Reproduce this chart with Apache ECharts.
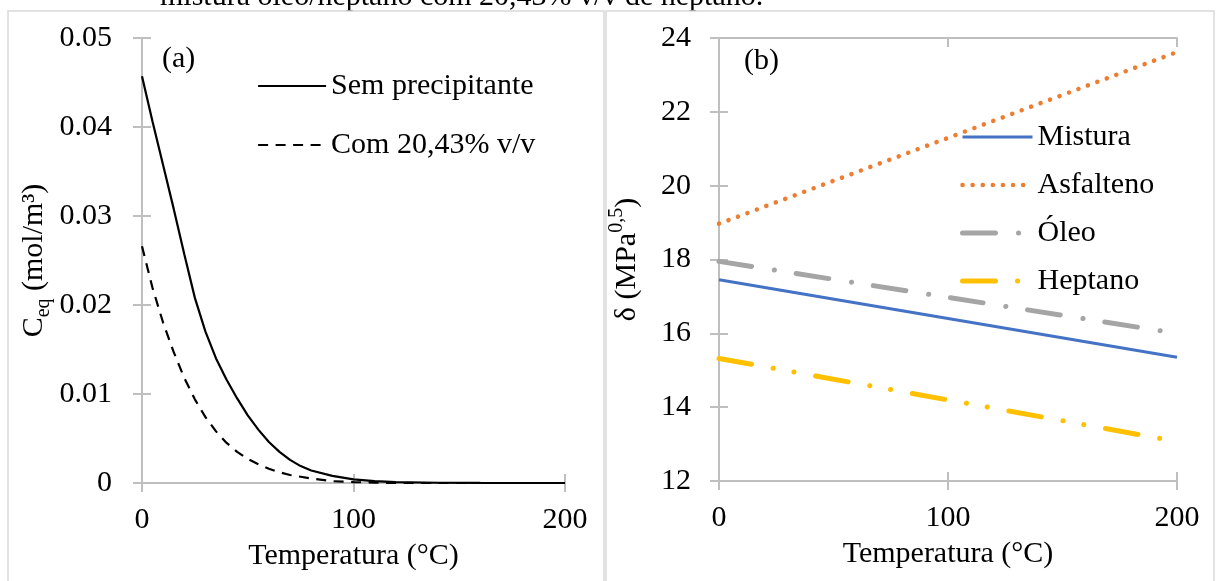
<!DOCTYPE html>
<html>
<head>
<meta charset="utf-8">
<script src="https://cdn.jsdelivr.net/npm/echarts@6/dist/echarts.min.js"></script>
<style>
html,body{margin:0;padding:0;background:#fff;}
#c{width:1216px;height:581px;}
</style>
</head>
<body>
<div id="c"></div>
<script>
// ---- Panel (a) data ----
var tempA = [0,5,10,15,20,25,30,35,40,45,50,55,60,65,70,75,80,90,100,110,120,140,160,180,200];
var semPrecipitante = [0.0457,0.0406,0.0357,0.0308,0.0257,0.0208,0.0170,0.0140,0.0116,0.0095,0.0076,0.0060,0.0046,0.0035,0.0026,0.0019,0.0014,0.0008,0.0004,0.0002,0.0001,0.00003,0.00001,0,0];
var com2043 = [0.0266,0.0219,0.0180,0.0147,0.0118,0.0094,0.0074,0.0058,0.0045,0.0035,0.0027,0.0021,0.0016,0.0012,0.0009,0.0007,0.0005,0.0002,0.0001,0.00005,0,0,0,0,0];
var namesA = ['Sem precipitante','Com 20,43% v/v'];
var ticksA = {min:0, max:0.05, interval:0.01};

// ---- Panel (b) data ----
var tempB = [0,200];
var mistura = [17.45,15.35];
var asfalteno = [18.97,23.62];
var oleo = [17.95,16.0];
var heptano = [15.32,13.07];
var namesB = ['Mistura','Asfalteno','Óleo','Heptano'];
var ticksB = {min:12, max:24, interval:2};
var ticksX = {min:0, max:200, interval:100};

function pairs(xs, ys){ return xs.map(function(x,i){return [x, ys[i]];}); }

var FONT = 'Liberation Serif';
var AX = '#BFBFBF';

function mkX(grid, kind){
  var a = {type:'value', gridIndex:grid, min:ticksX.min, max:ticksX.max, interval:ticksX.interval,
    splitLine:{show:false}, axisLine:{show:true, lineStyle:{color:AX, width:2}},
    axisTick:{show:true, length:9, lineStyle:{color:AX, width:2}},
    axisLabel:{show:false}};
  if (kind === 'main'){
    a.position = 'bottom';
    a.axisLabel = {show:true, color:'#000', fontFamily:FONT, fontSize:30, margin:22};
    a.name = 'Temperatura (°C)';
    a.nameLocation = 'middle';
    a.nameGap = 58;
    a.nameTextStyle = {color:'#000', fontFamily:FONT, fontSize:30};
  } else if (kind === 'in'){
    a.position = 'bottom';
    a.axisTick.inside = true;
    a.axisLine = {show:false};
  } else {
    a.position = 'top';
    a.axisTick.inside = true;
  }
  return a;
}
function mkY(grid, kind, t, name, gap, labMargin){
  var a = {type:'value', gridIndex:grid, min:t.min, max:t.max, interval:t.interval,
    splitLine:{show:false}, axisLine:{show:true, lineStyle:{color:AX, width:2}},
    axisTick:{show:true, length:9, lineStyle:{color:AX, width:2}},
    axisLabel:{show:false}};
  if (kind === 'main'){
    a.position = 'left';
    a.axisLabel = {show:true, color:'#000', fontFamily:FONT, fontSize:30, margin:labMargin};
    a.name = name;
    a.nameLocation = 'middle';
    a.nameGap = gap;
    a.nameRotate = 90;
    a.nameTextStyle = {color:'#000', fontFamily:FONT, fontSize:30,
      rich:{
        m:{fontFamily:FONT, fontSize:30, lineHeight:40, verticalAlign:'middle', color:'#000'},
        sub:{fontFamily:FONT, fontSize:20, lineHeight:22, verticalAlign:'bottom', color:'#000'},
        sup:{fontFamily:FONT, fontSize:20, lineHeight:22, verticalAlign:'top', color:'#000'}
      }};
  } else if (kind === 'in'){
    a.position = 'left';
    a.axisTick.inside = true;
    a.axisLine = {show:false};
  } else {
    a.position = 'right';
    a.axisTick.inside = true;
  }
  return a;
}

var legendLine = {width:'inherit', type:'inherit', cap:'inherit'};

var option = {
  animation:false,
  backgroundColor:'#fff',
  graphic:[
    {type:'text', z:-10, left:160, top:-18, style:{text:'mistura óleo/heptano com 20,43% v/v de heptano.', font:'30px "Liberation Serif"', fill:'#000'}},
    {type:'rect', z:-5, shape:{x:8, y:11, width:596, height:600}, style:{fill:'#fff', stroke:'#D9D9D9', lineWidth:1.5}},
    {type:'rect', z:-5, shape:{x:606, y:11, width:608, height:600}, style:{fill:'#fff', stroke:'#D9D9D9', lineWidth:1.5}},
    {type:'text', left:162, top:44, style:{text:'(a)', font:'30px "Liberation Serif"', fill:'#000'}},
    {type:'text', left:744, top:46, style:{text:'(b)', font:'30px "Liberation Serif"', fill:'#000'}}
  ],
  grid:[
    {left:142, top:38, width:423, height:445},
    {left:719, top:38, width:458, height:443}
  ],
  xAxis:[mkX(0,'main'), mkX(0,'in'), mkX(0,'top'), mkX(1,'main'), mkX(1,'in'), mkX(1,'top')],
  yAxis:[
    mkY(0,'main',ticksA,'{m|C}{sub|eq}{m| (mol/m³)}',88,30), mkY(0,'in',ticksA), mkY(0,'right',ticksA),
    mkY(1,'main',ticksB,'{m|δ (MPa}{sup|0,5}{m|)}',72,28), mkY(1,'in',ticksB), mkY(1,'right',ticksB)
  ],
  legend:[
    {data:namesA, orient:'vertical', left:257, top:71, padding:0, itemWidth:68, itemHeight:30, itemGap:29,
     itemStyle:{opacity:0}, lineStyle:legendLine,
     textStyle:{fontFamily:FONT, fontSize:30, color:'#000'}},
    {data:namesB, orient:'vertical', left:960, top:122, padding:0, itemWidth:70, itemHeight:30, itemGap:18,
     itemStyle:{opacity:0}, lineStyle:legendLine,
     textStyle:{fontFamily:FONT, fontSize:30, color:'#000'}}
  ],
  series:[
    {name:namesA[0], type:'line', xAxisIndex:0, yAxisIndex:0, data:pairs(tempA, semPrecipitante),
     symbol:'none', color:'#000', lineStyle:{color:'#000', width:2.2}},
    {name:namesA[1], type:'line', xAxisIndex:0, yAxisIndex:0, data:pairs(tempA, com2043),
     symbol:'none', color:'#000', lineStyle:{color:'#000', width:2.2, type:[10,7.5]}},
    {name:namesB[0], type:'line', xAxisIndex:3, yAxisIndex:3, data:pairs(tempB, mistura),
     symbol:'none', color:'#4472C4', lineStyle:{color:'#4472C4', width:3}},
    {name:namesB[1], type:'line', xAxisIndex:3, yAxisIndex:3, data:pairs(tempB, asfalteno),
     symbol:'none', color:'#ED7D31', lineStyle:{color:'#ED7D31', width:4.5, type:[0.1,10], cap:'round'}},
    {name:namesB[2], type:'line', xAxisIndex:3, yAxisIndex:3, data:pairs(tempB, oleo),
     symbol:'none', color:'#A5A5A5', lineStyle:{color:'#A5A5A5', width:5, type:[33,23,0.1,22], cap:'round'}},
    {name:namesB[3], type:'line', xAxisIndex:3, yAxisIndex:3, data:pairs(tempB, heptano),
     symbol:'none', color:'#FFC000', lineStyle:{color:'#FFC000', width:5, type:[33,22,0.1,21,0.1,22], cap:'round'}}
  ]
};
var chart = echarts.init(document.getElementById('c'), null, {renderer:'canvas'});
chart.setOption(option);
</script>
</body>
</html>
